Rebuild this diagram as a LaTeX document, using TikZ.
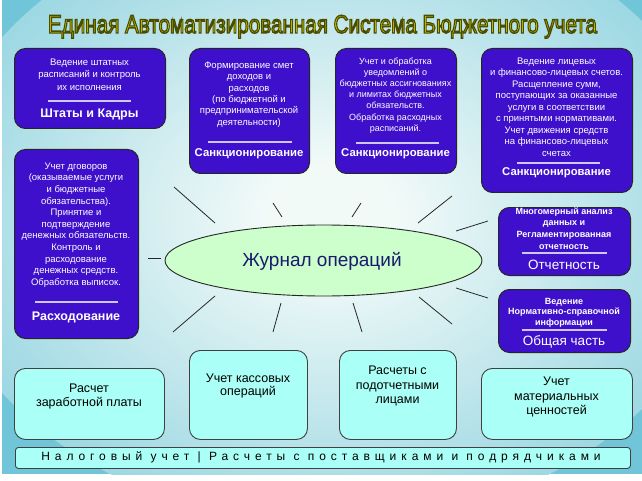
\documentclass[tikz,border=0pt]{standalone}
\usepackage{fontspec}
\usepackage{graphicx}
\setmainfont{Liberation Sans}
\newfontfamily\spacedfont[LetterSpace=41]{Liberation Sans}
\usetikzlibrary{shapes.geometric}
\definecolor{boxpurple}{RGB}{62,16,204}
\definecolor{boxcyan}{RGB}{170,255,246}
\definecolor{ellgreen}{RGB}{204,255,204}
\definecolor{bgin}{RGB}{242,250,248}
\definecolor{bgout}{RGB}{112,198,216}
\definecolor{seplav}{RGB}{205,198,255}
\definecolor{navy}{RGB}{26,26,110}
\definecolor{titley}{RGB}{236,236,0}
\pgfdeclareradialshading{bgrad}{\pgfpoint{0bp}{0bp}}{color(0bp)=(bgin); color(4bp)=(bgin); color(36bp)=(bgout); color(50bp)=(bgout)}
\newcommand\myfs[2]{\fontsize{#1}{#2}\selectfont}
\newcommand\mytitle{\resizebox{549pt}{\height}{\fontsize{25.5}{30}\selectfont\special{pdf:literal direct 2 Tr 1.4 w 0.3 0.3 0 RG}Единая Автоматизированная Система Бюджетного учета\special{pdf:literal direct 0 Tr}}}
\tikzset{
 pbox/.style={draw=black!85, line width=1pt, fill=boxpurple, rounded corners=11pt, anchor=north west, inner sep=0pt},
 cbox/.style={draw=black!75, line width=0.9pt, fill=boxcyan, rounded corners=11pt, anchor=north west, inner sep=0pt},
 ptext/.style={text=white, align=center, inner sep=0pt},
 ctext/.style={text=black, align=center, inner sep=0pt},
 sepline/.style={draw=seplav, line width=1.3pt},
 ray/.style={draw=black!85, line width=0.8pt},
}
\begin{document}
\begin{tikzpicture}[x=1pt,y=-1pt]
\useasboundingbox (0,0) rectangle (642,481);
% background
\fill[bgout] (2,0) rectangle (642,474);
\begin{scope}
\clip (2,0) rectangle (642,474);
\path[shading=bgrad] (330,215) ellipse (400 and 310);
\end{scope}
% title
\node[anchor=base, text=titley, inner sep=0pt] (title) at (322.5,33) {\mytitle};
% rays
\foreach \ax/\ay/\bx/\by in {174/187/215/223, 273/203/282/217, 361/203/352/217, 452/196/418/223, 488/221/456/231, 148/258/161/258, 215/296/173/332, 281/303/273/332, 353/303/362/332, 419/297/452/324, 456/288/488/298}
  \draw[ray] (\ax,\ay) -- (\bx,\by);
% ellipse
\node[ellipse, draw=black!85, line width=0.9pt, fill=ellgreen, minimum width=317pt, minimum height=71pt, inner sep=0pt] (journal) at (323.5,260.5) {};
\node[text=navy, inner sep=0pt, font=\myfs{19}{22}] (jt) at (322,262) {\strut Журнал операций};
% box 1
\node[pbox, minimum width=151pt, minimum height=80pt] (b1) at (14,48) {};
\node[ptext, font=\myfs{9.5}{12.5}] (t1) at (89.5,75.5) {\strut Ведение штатных\\расписаний и контроль\\их исполнения\strut};
\draw[sepline] (48,101) -- (131,101);
\node[ptext, font=\myfs{12.5}{15}\bfseries] (h1) at (89.5,115) {\strut Штаты и Кадры};
% box 2
\node[pbox, minimum width=120pt, minimum height=125pt] (b2) at (189,48) {};
\node[ptext, font=\myfs{9.5}{11.4}] (t2) at (249,94.5) {\strut Формирование смет\\доходов и\\расходов\\(по бюджетной и\\предпринимательской\\деятельности)\strut};
\draw[sepline] (208,142) -- (292,142);
\node[ptext, font=\myfs{11.3}{14}\bfseries] (h2) at (249,154) {\strut Санкционирование};
% box 3
\node[pbox, minimum width=121pt, minimum height=125pt] (b3) at (335,48) {};
\node[ptext, font=\myfs{9}{11.2}] (t3) at (395.5,95.5) {\strut Учет и обработка\\уведомлений о\\бюджетных ассигнованиях\\и лимитах бюджетных\\обязательств.\\Обработка расходных\\расписаний.\strut};
\draw[sepline] (356,143) -- (439,143);
\node[ptext, font=\myfs{11.3}{14}\bfseries] (h3) at (395.5,154) {\strut Санкционирование};
% box 4
\node[pbox, minimum width=151pt, minimum height=144pt] (b4) at (481,48) {};
\node[ptext, font=\myfs{9.5}{11.5}] (t4) at (556.5,108) {\strut Ведение лицевых\\и финансово-лицевых счетов.\\Расщепление сумм,\\поступающих за оказанные\\услуги в соответствии\\с принятыми нормативами.\\Учет движения средств\\на финансово-лицевых\\счетах\strut};
\draw[sepline] (517,163) -- (600,163);
\node[ptext, font=\myfs{11.3}{14}\bfseries] (h4) at (556.5,173) {\strut Санкционирование};
% box 5
\node[pbox, minimum width=124pt, minimum height=189pt] (b5) at (14,149) {};
\node[ptext, font=\myfs{9.5}{11.6}] (t5) at (76,225) {\strut Учет дговоров\\(оказываемые услуги\\и бюджетные\\обязательства).\\Принятие и\\подтверждение\\денежных обязательств.\\Контроль и\\расходование\\денежных средств.\\Обработка выписок.\strut};
\draw[sepline] (35,302) -- (118,302);
\node[ptext, font=\myfs{12.5}{15}\bfseries] (h5) at (76,317) {\strut Расходование};
% box 6
\node[pbox, minimum width=132pt, minimum height=68pt] (b6) at (498,207) {};
\node[ptext, font=\myfs{9}{11.7}\bfseries] (t6) at (564,229.5) {\strut Многомерный анализ\\данных и\\Регламентированная\\отчетность\strut};
\draw[sepline] (522,253) -- (607,253);
\node[ptext, font=\myfs{13.5}{16}] (h6) at (564,266) {\strut Отчетность};
% box 7
\node[pbox, minimum width=132pt, minimum height=63pt] (b7) at (498,289) {};
\node[ptext, font=\myfs{9}{10.5}\bfseries] (t7) at (564,312.5) {\strut Ведение\\Нормативно-справочной\\информации\strut};
\draw[sepline] (522,330) -- (607,330);
\node[ptext, font=\myfs{13.5}{16}] (h7) at (564,342) {\strut Общая часть};
% bottom boxes
\node[cbox, minimum width=150pt, minimum height=71pt] (b8) at (14,368) {};
\node[ctext, font=\myfs{12.5}{14}] (t8) at (89,397) {\strut Расчет\\заработной платы\strut};
\node[cbox, minimum width=118pt, minimum height=89pt] (b9) at (189,350) {};
\node[ctext, font=\myfs{12.5}{13.5}] (t9) at (248,386.5) {\strut Учет кассовых\\операций\strut};
\node[cbox, minimum width=117pt, minimum height=89pt] (b10) at (339,350) {};
\node[ctext, font=\myfs{12.5}{14.5}] (t10) at (397.5,386.5) {\strut Расчеты с\\подотчетными\\лицами\strut};
\node[cbox, minimum width=151pt, minimum height=71pt] (b11) at (481,368) {};
\node[ctext, font=\myfs{12.5}{14.5}] (t11) at (556.5,397.5) {\strut Учет\\материальных\\ценностей\strut};
% bottom bar
\node[cbox, rounded corners=3pt, minimum width=615pt, minimum height=21pt] (bar) at (15,447) {};
\node[ctext, font=\spacedfont\myfs{12}{14}] (bart) at (321,457.5) {\strut Налоговый учет | Расчеты с поставщиками и подрядчиками};
\end{tikzpicture}
\end{document}
